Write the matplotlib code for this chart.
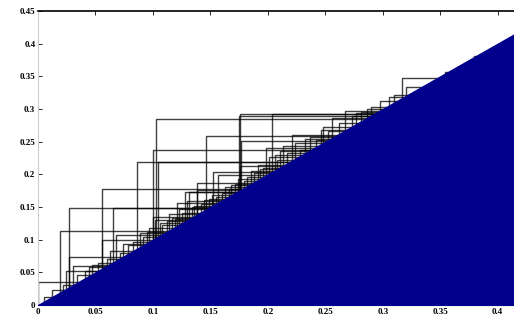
#python 3
# staircase (birth/death) plot over the diagonal, MATLAB-like look

import matplotlib
matplotlib.use('Agg')
import matplotlib.pyplot as plt

# pairs: (birth, death)
births = [0.000, 0.019, 0.027, 0.056, 0.065, 0.086, 0.100, 0.103, 0.104, 0.146,
          0.176, 0.177, 0.204, 0.175, 0.317, 0.320, 0.027, 0.056, 0.068, 0.030,
          0.121, 0.128, 0.100, 0.102, 0.138, 0.130, 0.221, 0.237, 0.248, 0.256,
          0.267, 0.273, 0.198, 0.213, 0.176, 0.152, 0.157, 0.138, 0.131, 0.354,
          0.379, 0.005, 0.012, 0.022, 0.034, 0.041, 0.047, 0.052, 0.060, 0.071,
          0.078, 0.083, 0.091, 0.095, 0.108, 0.112, 0.117, 0.125, 0.134, 0.142,
          0.149, 0.160, 0.166, 0.171, 0.182, 0.188, 0.193, 0.208, 0.228, 0.242,
          0.281, 0.290, 0.298, 0.305, 0.310,
          0.024, 0.044, 0.063, 0.074, 0.089, 0.097, 0.106, 0.114, 0.119, 0.123,
          0.136, 0.144, 0.151, 0.155, 0.163, 0.168, 0.174, 0.179, 0.185, 0.191,
          0.196, 0.201, 0.206, 0.211, 0.217, 0.224, 0.232, 0.246, 0.252, 0.262,
          0.277, 0.286]
deaths = [0.035, 0.113, 0.148, 0.177, 0.148, 0.219, 0.237, 0.284, 0.219, 0.258,
          0.293, 0.251, 0.292, 0.289, 0.347, 0.333, 0.073, 0.100, 0.107, 0.060,
          0.156, 0.173, 0.135, 0.130, 0.187, 0.159, 0.260, 0.257, 0.272, 0.286,
          0.297, 0.290, 0.240, 0.243, 0.213, 0.203, 0.199, 0.176, 0.173, 0.356,
          0.381, 0.012, 0.023, 0.030, 0.046, 0.052, 0.062, 0.065, 0.071, 0.080,
          0.092, 0.096, 0.104, 0.112, 0.122, 0.128, 0.133, 0.141, 0.150, 0.155,
          0.163, 0.172, 0.178, 0.185, 0.196, 0.202, 0.208, 0.222, 0.238, 0.252,
          0.296, 0.303, 0.312, 0.318, 0.322,
          0.052, 0.058, 0.083, 0.094, 0.110, 0.118, 0.126, 0.139, 0.131, 0.147,
          0.152, 0.161, 0.169, 0.166, 0.181, 0.184, 0.193, 0.190, 0.205, 0.214,
          0.210, 0.226, 0.229, 0.235, 0.233, 0.248, 0.254, 0.268, 0.266, 0.279,
          0.294, 0.300]

diag_x = [0.0, 0.45]
tick_vals = [0, 0.05, 0.1, 0.15, 0.2, 0.25, 0.3, 0.35, 0.4, 0.45]
tick_labels = ['0', '0.05', '0.1', '0.15', '0.2', '0.25', '0.3', '0.35', '0.4', '0.45']

plt.rcParams['font.family'] = ['Liberation Serif', 'DejaVu Serif']

fig = plt.figure(figsize=(5.14, 3.25), dpi=100)
ax = fig.add_axes([0.074, 0.0615, 1.006, 0.9045])

for b, d in zip(births, deaths):
    ax.plot([b, b, d], [b, d, d], color='k', lw=1.0, alpha=0.75, zorder=2)

ax.fill_between(diag_x, 0, diag_x, color='#00008C', lw=0, zorder=3)

ax.set_xlim(0, 0.45)
ax.set_ylim(0, 0.45)
ax.set_xticks(tick_vals[:-1])
ax.set_xticklabels(tick_labels[:-1], fontsize=6.5, fontweight='bold')
ax.set_yticks(tick_vals)
ax.set_yticklabels(tick_labels, fontsize=6.5, fontweight='bold')
ax.tick_params(direction='in', length=3, width=0.6, pad=2, top=True)
ax.spines['left'].set_color('#cccccc')
ax.spines['bottom'].set_color('#00008C')
ax.spines['top'].set_linewidth(1.2)
ax.spines['right'].set_visible(False)

fig.savefig('out.png', dpi=100)
